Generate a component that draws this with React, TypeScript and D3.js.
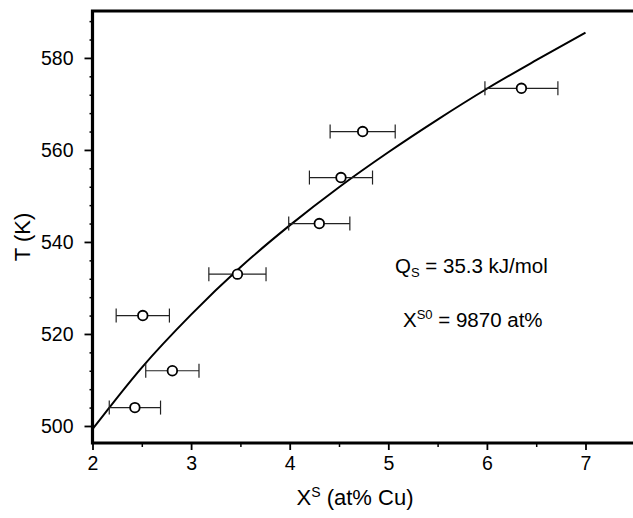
import React, { useEffect, useRef } from 'react';
import * as d3 from 'd3';

// measured points: X^S (at% Cu), T (K), half width of the x error bar
const pointX = [2.43, 2.51, 2.81, 3.47, 4.3, 4.52, 4.74, 6.35];
const pointT = [504, 524, 512, 533, 544, 554, 564, 573.4];
const pointErr = [0.26, 0.27, 0.27, 0.29, 0.31, 0.32, 0.33, 0.37];

// fitted curve
const curveX = [2, 2.5, 3, 3.5, 4, 4.5, 5, 5.5, 6, 6.5, 7];
const curveT = [499.3, 512.7, 524.2, 534.5, 543.6, 551.9, 559.5, 566.6, 573.3, 579.5, 585.5];

const xTicks = [2, 3, 4, 5, 6, 7];
const xMinorTicks = [2.5, 3.5, 4.5, 5.5, 6.5];
const yTicks = [500, 520, 540, 560, 580];
const yMinorTicks = [504, 508, 512, 516, 524, 528, 532, 536, 544, 548, 552, 556, 564, 568, 572, 576, 584, 588];

const FONT = '"Liberation Sans", Arial, sans-serif';

export default function App() {
  const svgRef = useRef<SVGSVGElement>(null);

  useEffect(() => {
    const svg = d3.select(svgRef.current);
    svg.selectAll('*').remove();

    const left = 92.5;
    const right = 633;
    const top = 11;
    const bottom = 443;

    const x = d3.scaleLinear().domain([2, 2 + (right - left) / 98.6]).range([left, right]);
    const y = d3.scaleLinear().domain([496.3, 590.2]).range([bottom, top]);

    // minor ticks
    svg
      .append('g')
      .attr('transform', `translate(${left},0)`)
      .call(d3.axisLeft(y).tickValues(yMinorTicks).tickSize(3).tickFormat(() => ''))
      .call((g) => g.select('.domain').remove())
      .selectAll('line')
      .attr('stroke-width', 1.5);

    svg
      .append('g')
      .attr('transform', `translate(0,${bottom})`)
      .call(d3.axisBottom(x).tickValues(xMinorTicks).tickSize(4).tickFormat(() => ''))
      .call((g) => g.select('.domain').remove())
      .selectAll('line')
      .attr('stroke-width', 1.5);

    // major ticks
    const yAxis = svg
      .append('g')
      .attr('transform', `translate(${left},0)`)
      .call(d3.axisLeft(y).tickValues(yTicks).tickSize(8).tickPadding(11).tickFormat(d3.format('d')));
    yAxis.select('.domain').remove();
    yAxis.selectAll('line').attr('stroke-width', 1.8);
    yAxis
      .selectAll('text')
      .style('font-family', FONT)
      .style('font-size', '19.5px')
      .attr('fill', '#000');

    const xAxis = svg
      .append('g')
      .attr('transform', `translate(0,${bottom})`)
      .call(d3.axisBottom(x).tickValues(xTicks).tickSize(7).tickPadding(6).tickFormat(d3.format('d')));
    xAxis.select('.domain').remove();
    xAxis.selectAll('line').attr('stroke-width', 1.8);
    xAxis
      .selectAll('text')
      .style('font-family', FONT)
      .style('font-size', '19.5px')
      .attr('fill', '#000');

    // frame: left, bottom, top
    svg
      .append('path')
      .attr('d', `M${right},${top}H${left}V${bottom}H${right}`)
      .attr('fill', 'none')
      .attr('stroke', '#000')
      .attr('stroke-width', 3.2);

    // fitted curve
    const line = d3
      .line<number>()
      .x((d, i) => x(curveX[i]))
      .y((d) => y(d))
      .curve(d3.curveMonotoneX);

    svg
      .append('path')
      .attr('d', line(curveT))
      .attr('fill', 'none')
      .attr('stroke', '#000')
      .attr('stroke-width', 2);

    // error bars
    const bars = svg.append('g').attr('stroke', '#222').attr('stroke-width', 1.2);
    pointX.forEach((px, i) => {
      const cy = y(pointT[i]);
      const x0 = x(px - pointErr[i]);
      const x1 = x(px + pointErr[i]);
      bars.append('line').attr('x1', x0).attr('x2', x1).attr('y1', cy).attr('y2', cy);
      bars.append('line').attr('x1', x0).attr('x2', x0).attr('y1', cy - 7).attr('y2', cy + 7);
      bars.append('line').attr('x1', x1).attr('x2', x1).attr('y1', cy - 7).attr('y2', cy + 7);
    });

    // markers
    svg
      .append('g')
      .selectAll('circle')
      .data(pointX)
      .join('circle')
      .attr('cx', (d) => x(d))
      .attr('cy', (d, i) => y(pointT[i]))
      .attr('r', 4.8)
      .attr('fill', '#fff')
      .attr('stroke', '#000')
      .attr('stroke-width', 1.8);

    // axis titles
    svg
      .append('text')
      .attr('transform', 'translate(30,237) rotate(-90)')
      .attr('text-anchor', 'middle')
      .style('font-family', FONT)
      .style('font-size', '22px')
      .text('T (K)');

    const xt = svg
      .append('text')
      .attr('x', 355)
      .attr('y', 505)
      .attr('text-anchor', 'middle')
      .style('font-family', FONT)
      .style('font-size', '22px');
    xt.append('tspan').text('X');
    xt.append('tspan').attr('font-size', '14px').attr('dy', -8).text('S');
    xt.append('tspan').attr('dy', 8).text(' (at% Cu)');

    // annotations
    const q = svg
      .append('text')
      .attr('x', 395)
      .attr('y', 273)
      .style('font-family', FONT)
      .style('font-size', '20.5px');
    q.append('tspan').text('Q');
    q.append('tspan').attr('font-size', '13px').attr('dy', 4).text('S');
    q.append('tspan').attr('dy', -4).text(' = 35.3 kJ/mol');

    const xs = svg
      .append('text')
      .attr('x', 403)
      .attr('y', 327)
      .style('font-family', FONT)
      .style('font-size', '20.5px');
    xs.append('tspan').text('X');
    xs.append('tspan').attr('font-size', '13px').attr('dy', -8).text('S0');
    xs.append('tspan').attr('dy', 8).text(' = 9870 at%');
  }, []);

  return (
    <div style={{ position: 'absolute', left: 0, top: 0 }}>
      <svg ref={svgRef} width={633} height={518} style={{ display: 'block', background: '#fff' }} />
    </div>
  );
}
